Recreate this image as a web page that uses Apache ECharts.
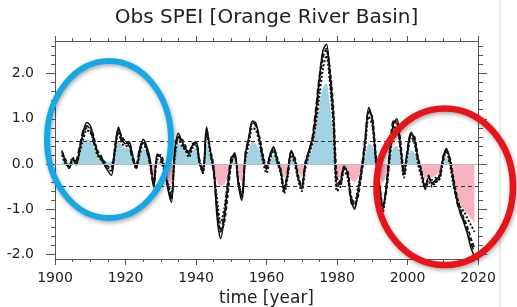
<!DOCTYPE html>
<html><head><meta charset="utf-8">
<script src="https://cdn.jsdelivr.net/npm/echarts@6/dist/echarts.min.js"></script>
<style>html,body{margin:0;padding:0;background:#fff}#c{width:517px;height:307px}</style>
</head><body><div id="c"></div>
<script>
// Years 1902..2019 (annual index)
const startYear = 1902;
// Solid line
const solidSeries = [
 0.30, 0.05, -0.10, 0.12, -0.02, 0.30, 0.70, 0.92,
 0.85, 0.55, 0.25, 0.12, -0.02, -0.15, -0.25, 0.30, 0.82, 0.55,
 0.45, 0.50, 0.20, -0.10, 0.25, 0.55, 0.40, 0.10, -0.52, 0.22,
 0.15, -0.10, -0.55, -0.85, 0.30, 0.68, 0.50, 0.35, 0.22, 0.42,
 0.50, 0.05, -0.20, 0.82, 0.30, -0.10, -1.20, -1.65, -1.20, -0.50,
 0.10, 0.25, -0.45, -0.80, 0.20, 0.60, 0.95, 0.90, 0.55, 0.15,
 -0.12, 0.20, 0.38, 0.10, -0.15, -0.60, -0.20, 0.30, 0.10, -0.30,
 -0.55, 0.00, 0.30, 0.55, 1.15, 1.90, 2.50, 2.65, 2.00, 1.05,
 -0.50, -0.40, -0.05, -0.20, -0.80, -1.00, -0.60, -0.10, 0.55, 1.25,
 1.00, 0.10, -0.50, -1.00, -0.50, 0.30, 0.90, 1.00, 0.40, -0.20,
 0.30, 0.70, 0.55, 0.10, -0.20, -0.55, -0.30, -0.42, -0.35, -0.30,
 0.10, 0.35, 0.10, -0.40, -0.80, -1.10, -1.30, -1.55, -1.85, -2.05
];
// Dashed line
const dashedSeries = [
 0.25, 0.10, -0.05, 0.10, 0.05, 0.35, 0.65, 0.80,
 0.80, 0.60, 0.30, 0.15, 0.05, -0.05, -0.10, 0.35, 0.75, 0.60,
 0.50, 0.45, 0.20, -0.05, 0.30, 0.50, 0.35, 0.05, -0.45, 0.15,
 0.20, -0.05, -0.45, -0.75, 0.25, 0.60, 0.55, 0.40, 0.25, 0.40,
 0.45, 0.10, -0.15, 0.75, 0.35, -0.05, -0.95, -1.50, -1.30, -0.70,
 0.00, 0.20, -0.35, -0.70, 0.15, 0.55, 0.90, 0.85, 0.60, 0.20,
 -0.05, 0.15, 0.35, 0.15, -0.10, -0.50, -0.25, 0.25, 0.15, -0.25,
 -0.50, -0.05, 0.25, 0.50, 1.00, 1.75, 2.35, 2.55, 2.10, 1.20,
 -0.30, -0.45, -0.10, -0.15, -0.70, -0.90, -0.70, -0.20, 0.45, 1.15,
 1.05, 0.25, -0.40, -0.90, -0.60, 0.20, 0.85, 0.95, 0.50, -0.10,
 0.25, 0.65, 0.60, 0.15, -0.15, -0.50, -0.35, -0.35, -0.40, -0.25,
 0.05, 0.30, 0.15, -0.30, -0.70, -1.00, -1.20, -1.40, -1.65, -1.85
];
// Dotted line
const dottedSeries = [
 0.20, 0.00, -0.05, 0.15, 0.00, 0.25, 0.55, 0.75,
 0.70, 0.50, 0.20, 0.10, 0.00, -0.10, -0.05, 0.25, 0.70, 0.45,
 0.40, 0.40, 0.15, -0.10, 0.20, 0.45, 0.30, 0.00, -0.40, 0.10,
 0.05, -0.15, -0.40, -0.70, 0.15, 0.55, 0.40, 0.30, 0.15, 0.35,
 0.40, 0.00, -0.20, 0.70, 0.25, -0.15, -0.80, -1.30, -1.00, -0.45,
 0.05, 0.15, -0.40, -0.75, 0.10, 0.45, 0.80, 0.75, 0.45, 0.05,
 -0.20, 0.10, 0.30, 0.05, -0.20, -0.65, -0.30, 0.20, 0.00, -0.35,
 -0.60, -0.10, 0.20, 0.45, 0.90, 1.50, 2.10, 2.40, 1.80, 0.80,
 -0.60, -0.50, -0.15, -0.30, -0.75, -0.85, -0.50, -0.15, 0.40, 1.05,
 0.85, 0.05, -0.55, -1.05, -0.55, 0.15, 0.75, 0.85, 0.30, -0.30,
 0.20, 0.60, 0.45, 0.00, -0.30, -0.55, -0.40, -0.50, -0.40, -0.35,
 0.00, 0.30, 0.00, -0.45, -0.75, -0.95, -1.05, -1.20, -1.35, -1.50
];
// Long-dashed line
const longDashSeries = [
 0.28, 0.02, -0.08, 0.05, 0.08, 0.40, 0.75, 0.85,
 0.75, 0.45, 0.30, 0.20, 0.00, -0.12, -0.15, 0.40, 0.78, 0.50,
 0.50, 0.40, 0.10, -0.05, 0.35, 0.50, 0.30, -0.05, -0.48, 0.20,
 0.10, -0.10, -0.50, -0.80, 0.35, 0.62, 0.45, 0.32, 0.28, 0.45,
 0.48, 0.02, -0.10, 0.78, 0.28, -0.20, -1.05, -1.45, -1.10, -0.40,
 0.15, 0.20, -0.42, -0.70, 0.25, 0.58, 0.92, 0.85, 0.50, 0.10,
 -0.10, 0.22, 0.32, 0.05, -0.18, -0.55, -0.15, 0.28, 0.05, -0.32,
 -0.50, 0.05, 0.28, 0.60, 1.25, 1.95, 2.45, 2.50, 1.85, 0.90,
 -0.45, -0.35, -0.05, -0.25, -0.85, -0.95, -0.55, -0.05, 0.60, 1.20,
 0.95, 0.15, -0.45, -0.95, -0.45, 0.35, 0.95, 0.90, 0.35, -0.25,
 0.35, 0.68, 0.50, 0.05, -0.25, -0.50, -0.25, -0.45, -0.30, -0.35,
 0.15, 0.32, 0.05, -0.35, -0.85, -1.05, -1.25, -1.50, -1.75, -1.95
];
// Shaded series (blue above 0, pink below 0)
const shadedSeries = [
 0.15, 0.05, 0.00, 0.10, 0.05, 0.25, 0.45, 0.55,
 0.50, 0.40, 0.25, 0.15, 0.08, 0.05, 0.05, 0.25, 0.50, 0.40,
 0.35, 0.35, 0.15, 0.05, 0.20, 0.35, 0.25, 0.00, -0.40, 0.05,
 0.05, -0.05, -0.30, -0.45, 0.15, 0.45, 0.40, 0.30, 0.20, 0.30,
 0.35, 0.05, -0.10, 0.45, 0.20, -0.10, -0.40, -0.50, -0.45, -0.30,
 -0.05, 0.10, -0.25, -0.40, 0.05, 0.30, 0.50, 0.45, 0.30, 0.05,
 -0.05, 0.10, 0.20, 0.05, -0.10, -0.30, -0.15, 0.15, 0.05, -0.15,
 -0.30, -0.05, 0.15, 0.35, 0.80, 1.30, 1.70, 1.78, 1.30, 0.50,
 -0.30, -0.30, -0.10, -0.15, -0.35, -0.40, -0.30, -0.10, 0.20, 0.45,
 0.40, 0.05, -0.25, -0.40, -0.25, 0.10, 0.35, 0.40, 0.20, -0.10,
 0.10, 0.30, 0.25, 0.00, -0.15, -0.35, -0.25, -0.30, -0.25, -0.20,
 0.00, 0.15, 0.00, -0.30, -0.70, -0.90, -1.00, -1.10, -1.20, -1.30
];
const yMajorTicks = [-2, -1, 0, 1, 2];
const yMinorTicks = [-1.8,-1.6,-1.4,-1.2,-0.8,-0.6,-0.4,-0.2,0.2,0.4,0.6,0.8,1.2,1.4,1.6,1.8,2.2,2.4,2.6];
const refLines = [0.5, -0.5];

function pairs(arr){ return arr.map((v,i)=>[startYear+i, v]); }

const FONT = 'DejaVu Sans';
const AX = '#555';
const Y_MIN = -2.1, Y_MAX = 2.72;
const GRID = {left:55, right:39, top:41, bottom:48};
const H = 307;
const chart = echarts.init(document.getElementById('c'), null, {renderer:'canvas'});

// area colour: blue above zero, pink below (split where the axis crosses 0)
const zeroFrac = Y_MAX / (Y_MAX - Y_MIN);
const BLUE = '#a2d3e3', PINK = '#f8b3c2';
const areaGrad = new echarts.graphic.LinearGradient(0, GRID.top, 0, H - GRID.bottom, [
  {offset:0, color:BLUE}, {offset:zeroFrac, color:BLUE},
  {offset:zeroFrac, color:PINK}, {offset:1, color:PINK}
], true);

const baseY = {type:'value', min:Y_MIN, max:Y_MAX, splitLine:{show:false}};
chart.setOption({
  animation:false,
  backgroundColor:'#fff',
  title:{text:'Obs SPEI [Orange River Basin]', left:266.5, textAlign:'center', top:8, padding:0,
    textStyle:{fontFamily:FONT, fontSize:20, fontWeight:'normal', color:'#222'}},
  grid:Object.assign({outerBoundsMode:'none'}, GRID),
  xAxis:[
    {type:'value', min:1900, max:2020, interval:20, position:'bottom',
     axisLine:{onZero:false, lineStyle:{color:AX}}, axisTick:{length:6, lineStyle:{color:AX}},
     minorTick:{show:true, splitNumber:4, length:3, lineStyle:{color:AX}},
     axisLabel:{margin:12, fontFamily:FONT, fontSize:14, color:'#222', formatter:v=>String(v)},
     splitLine:{show:false},
     name:'time [year]', nameLocation:'middle', nameGap:30,
     nameTextStyle:{fontFamily:FONT, fontSize:17, color:'#222'}},
    {type:'value', min:1900, max:2020, interval:20, position:'top',
     axisLine:{onZero:false, lineStyle:{color:AX}}, axisTick:{length:5, lineStyle:{color:AX}},
     minorTick:{show:true, splitNumber:4, length:3, lineStyle:{color:AX}},
     axisLabel:{show:false}, splitLine:{show:false}}
  ],
  yAxis:[
    Object.assign({}, baseY, {position:'left',
      axisLine:{show:true, onZero:false, lineStyle:{color:AX}},
      axisTick:{show:true, customValues:yMajorTicks, length:9, lineStyle:{color:AX}},
      axisLabel:{customValues:yMajorTicks, formatter:v=>v.toFixed(1), margin:21, fontFamily:FONT, fontSize:14, color:'#222'}}),
    Object.assign({}, baseY, {position:'right',
      axisLine:{show:true, onZero:false, lineStyle:{color:AX}},
      axisTick:{show:true, customValues:yMajorTicks, length:9, lineStyle:{color:AX}},
      axisLabel:{show:false}}),
    Object.assign({}, baseY, {position:'left',
      axisLine:{show:false, onZero:false},
      axisTick:{show:true, customValues:yMinorTicks, length:4, lineStyle:{color:AX}},
      axisLabel:{show:false}}),
    Object.assign({}, baseY, {position:'right',
      axisLine:{show:false, onZero:false},
      axisTick:{show:true, customValues:yMinorTicks, length:5, lineStyle:{color:AX}},
      axisLabel:{show:false}})
  ],
  series:[
    {type:'line', data:pairs(shadedSeries), symbol:'none', smooth:0.3,
     lineStyle:{width:0, opacity:0}, areaStyle:{color:areaGrad, opacity:1}, z:1,
     markLine:{silent:true, symbol:'none', label:{show:false},
       data:[{yAxis:0}], lineStyle:{color:'#bdbdbd', width:1, type:'solid'}}},
    {type:'line', data:pairs(solidSeries), symbol:'none', smooth:0.3,
     lineStyle:{color:'#111', width:1.5, type:'solid'}, z:3},
    {type:'line', data:pairs(longDashSeries), symbol:'none', smooth:0.3,
     lineStyle:{color:'#111', width:1.6, type:[6,3]}, z:3},
    {type:'line', data:pairs(dashedSeries), symbol:'none', smooth:0.3,
     lineStyle:{color:'#111', width:1.8, type:[4,2]}, z:3},
    {type:'line', data:pairs(dottedSeries), symbol:'none', smooth:0.3,
     lineStyle:{color:'#111', width:2, type:[2,2]}, z:3,
     markLine:{silent:true, symbol:'none', label:{show:false},
       data:refLines.map(v=>({yAxis:v})), lineStyle:{color:'#333', width:1, type:[4,3]}}}
  ],
  graphic:[
    {type:'line', shape:{x1:500, y1:0, x2:500, y2:307}, style:{stroke:'#e6e6e6', lineWidth:1.5}, z:0, silent:true},
    {type:'ellipse', shape:{cx:109, cy:139.5, rx:62, ry:78.5}, z:100, silent:true,
     style:{fill:'none', stroke:'#14a9e6', lineWidth:6, shadowBlur:4, shadowOffsetX:1, shadowOffsetY:2, shadowColor:'rgba(0,0,0,0.35)'}},
    {type:'ellipse', shape:{cx:444.75, cy:186.8, rx:68.25, ry:78.3}, z:100, silent:true,
     style:{fill:'none', stroke:'#e8141a', lineWidth:6.5, shadowBlur:4, shadowOffsetX:1, shadowOffsetY:2, shadowColor:'rgba(0,0,0,0.35)'}}
  ]
});
</script></body></html>
